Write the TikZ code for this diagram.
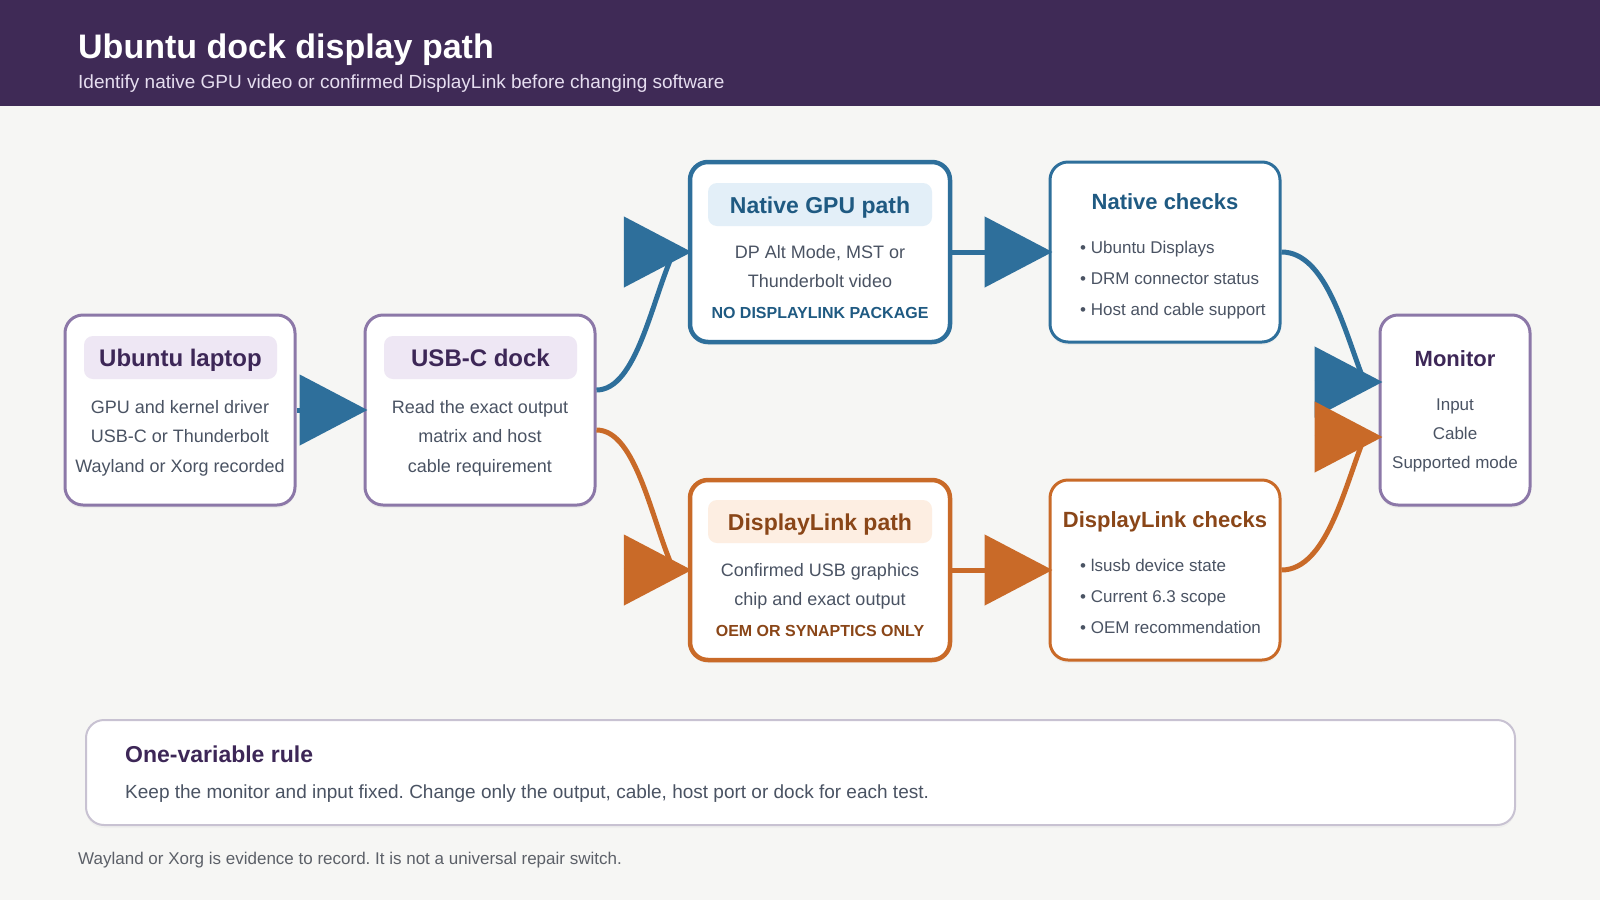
\documentclass[tikz,border=0pt]{standalone}
\usepackage{fontspec}
\setmainfont{Liberation Sans}
\usepackage{xcolor}
\usetikzlibrary{arrows.meta,shadows}
\frenchspacing

\definecolor{headpurple}{HTML}{3F2A56}
\definecolor{paper}{HTML}{F6F6F4}
\definecolor{lavline}{HTML}{8C78A8}
\definecolor{lavfill}{HTML}{EEE7F4}
\definecolor{plumtext}{HTML}{3D2757}
\definecolor{bodygrey}{HTML}{4A5363}
\definecolor{nativeblue}{HTML}{2E6F9B}
\definecolor{bluefill}{HTML}{E3EFF8}
\definecolor{bluetext}{HTML}{1F5A82}
\definecolor{dlorange}{HTML}{C96A28}
\definecolor{orangefill}{HTML}{FDEEE2}
\definecolor{orangetext}{HTML}{8A4618}
\definecolor{ruleline}{HTML}{C8C2D2}
\definecolor{notegrey}{HTML}{5C6068}
\definecolor{subtext}{HTML}{E6DEF0}

\begin{document}
\begin{tikzpicture}[x=1pt,y=-1pt,
    card/.style={draw,fill=white,rounded corners=18pt,inner sep=0pt,line width=3pt,
      minimum width=230pt,minimum height=190pt,
      drop shadow={shadow xshift=0pt,shadow yshift=-3pt,opacity=0.07}},
    pathcard/.style={card,line width=4.5pt,minimum width=260pt,minimum height=180pt},
    checkcard/.style={card,minimum height=180pt},
    tag/.style={rounded corners=9pt,inner sep=0pt,minimum height=43pt,text height=17pt,text depth=0pt},
    plain/.style={inner sep=0pt},
    body/.style={plain,align=center,text=bodygrey,font=\fontsize{18}{29.5}\selectfont},
    bigtitle/.style={font=\bfseries\fontsize{24}{28}\selectfont},
    midtitle/.style={plain,font=\bfseries\fontsize{22}{26}\selectfont},
    blueflow/.style={draw=nativeblue,line width=5pt},
    orangeflow/.style={draw=dlorange,line width=5pt},
    bigtip/.style={-{Triangle[length=68pt,width=70pt]},shorten >=-4pt}]
    \useasboundingbox (0,0) rectangle (1600,900);
    \fill[paper] (0,0) rectangle (1600,900);
    \fill[headpurple] (0,0) rectangle (1600,106);
    \node[plain,anchor=base west,text=white,font=\bfseries\fontsize{34}{40}\selectfont] (title) at (78,58) {Ubuntu dock display path};
    \node[plain,anchor=base west,text=subtext,font=\fontsize{19}{23}\selectfont] (subtitle) at (78,88) {Identify native GPU video or confirmed DisplayLink before changing software};

    \node[card,draw=lavline] (lap) at (180,410) {};
    \node[tag,bigtitle,fill=lavfill,text=plumtext,minimum width=193pt] (laptag) at (180.5,357.5) {Ubuntu laptop};
    \node[body] (lapbody) at (180,438) {GPU and kernel driver\\USB-C or Thunderbolt\\Wayland or Xorg recorded};

    \node[card,draw=lavline] (dock) at (480,410) {};
    \node[tag,bigtitle,fill=lavfill,text=plumtext,minimum width=193pt] (docktag) at (480.5,357.5) {USB-C dock};
    \node[body] (dockbody) at (480,438) {Read the exact output\\matrix and host\\cable requirement};

    \node[pathcard,draw=nativeblue] (nat) at (820,252) {};
    \node[tag,fill=bluefill,text=bluetext,minimum width=224pt,font=\bfseries\fontsize{23}{27}\selectfont] (nattag) at (820,204.5) {Native GPU path};
    \node[body,font=\fontsize{18}{28.5}\selectfont] (natbody) at (820,266.5) {DP Alt Mode, MST or\\Thunderbolt video};
    \node[plain,text=bluetext,font=\bfseries\fontsize{16}{19}\selectfont] (natnote) at (820,312.5) {NO DISPLAYLINK PACKAGE};

    \node[pathcard,draw=dlorange] (dl) at (820,570) {};
    \node[tag,fill=orangefill,text=orangetext,minimum width=224pt,font=\bfseries\fontsize{23}{27}\selectfont] (dltag) at (820,521.5) {DisplayLink path};
    \node[body,font=\fontsize{18}{28.5}\selectfont] (dlbody) at (820,586.5) {Confirmed USB graphics\\chip and exact output};
    \node[plain,text=orangetext,font=\bfseries\fontsize{16}{19}\selectfont] (dlnote) at (820,631) {OEM OR SYNAPTICS ONLY};

    \node[checkcard,draw=nativeblue] (natchk) at (1165,252) {};
    \node[midtitle,text=bluetext] (natchktitle) at (1165,202) {Native checks};
    \node[body,anchor=west,align=left,font=\fontsize{17}{31}\selectfont] (natlist) at (1080,280) {• Ubuntu Displays\\• DRM connector status\\• Host and cable support};

    \node[checkcard,draw=dlorange] (dlchk) at (1165,570) {};
    \node[midtitle,text=orangetext] (dlchktitle) at (1165,522) {DisplayLink checks};
    \node[body,anchor=west,align=left,font=\fontsize{17}{31}\selectfont] (dllist) at (1080,596.5) {• lsusb device state\\• Current 6.3 scope\\• OEM recommendation};

    \node[card,draw=lavline,minimum width=150pt] (mon) at (1455,410) {};
    \node[midtitle,text=plumtext] (montitle) at (1455,359) {Monitor};
    \node[body,font=\fontsize{17}{29}\selectfont] (monbody) at (1455,435) {Input\\Cable\\Supported mode};

    \coordinate (dockup) at ([shift={(0,-20)}]dock.east);
    \coordinate (dockdown) at ([shift={(0,20)}]dock.east);
    \coordinate (monup) at ([shift={(0,-28)}]mon.west);
    \coordinate (mondown) at ([shift={(0,27)}]mon.west);

    \draw[blueflow,bigtip] (lap) -- (dock);
    \draw[blueflow] (dockup) .. controls +(40,0) and +(-22,48) .. ([shift={(-14,0)}]nat.west);
    \draw[orangeflow] (dockdown) .. controls +(40,0) and +(-22,-48) .. ([shift={(-14,0)}]dl.west);
    \draw[blueflow,bigtip] ([shift={(-64,0)}]nat.west) -- (nat.west);
    \draw[orangeflow,bigtip] ([shift={(-64,0)}]dl.west) -- (dl.west);
    \draw[blueflow,bigtip] (nat) -- (natchk);
    \draw[orangeflow,bigtip] (dl) -- (dlchk);
    \draw[blueflow] (natchk.east) .. controls +(45,0) and +(-20,-50) .. ([shift={(-14,0)}]monup);
    \draw[orangeflow] (dlchk.east) .. controls +(45,0) and +(-20,50) .. ([shift={(-14,0)}]mondown);
    \draw[blueflow,bigtip] ([shift={(-64,0)}]monup) -- (monup);
    \draw[orangeflow,bigtip] ([shift={(-64,0)}]mondown) -- (mondown);

    \node[draw=ruleline,fill=white,line width=2pt,rounded corners=18pt,minimum width=1429pt,minimum height=105pt,
      drop shadow={shadow xshift=0pt,shadow yshift=-3pt,opacity=0.05}] (rule) at (800.5,772.5) {};
    \node[plain,anchor=base west,text=plumtext,font=\bfseries\fontsize{23}{27}\selectfont] (ruletitle) at (125,762) {One-variable rule};
    \node[plain,anchor=base west,text=bodygrey,font=\fontsize{19}{23}\selectfont] (rulebody) at (125,798) {Keep the monitor and input fixed. Change only the output, cable, host port or dock for each test.};
    \node[plain,anchor=base west,text=notegrey,font=\fontsize{17}{20}\selectfont] (footnote) at (78,864) {Wayland or Xorg is evidence to record. It is not a universal repair switch.};
\end{tikzpicture}
\end{document}
